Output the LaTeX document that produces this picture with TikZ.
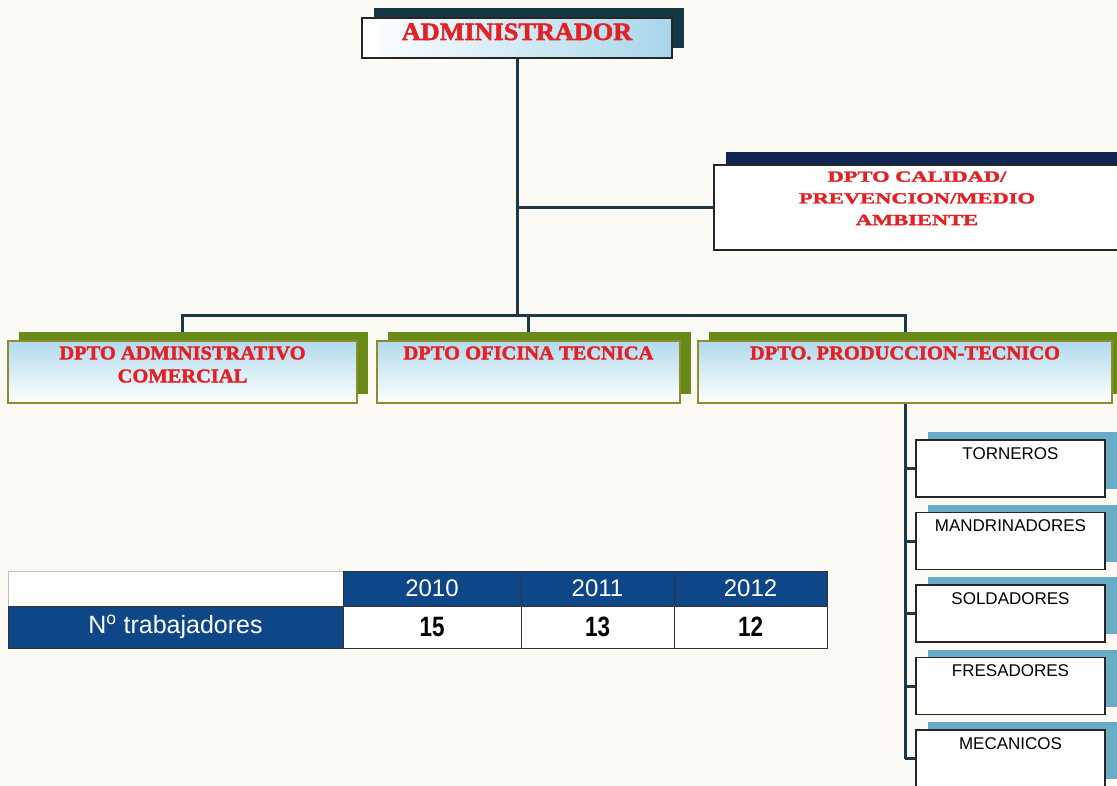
\documentclass[tikz,border=0pt]{standalone}
\usepackage{fontspec}
\setmainfont{Liberation Sans}
\newfontfamily\stencilfont[FakeStretch=1.05, FakeBold=2]{Liberation Serif}
\newfontfamily\widestencil[FakeStretch=1.45, FakeBold=2]{Liberation Serif}
\newfontfamily\narrowsans[FakeStretch=0.8]{Liberation Sans}
\usetikzlibrary{shapes,shadows,positioning,calc}
\definecolor{paper}{RGB}{251,250,244}
\definecolor{wirecol}{RGB}{28,58,70}
\definecolor{stencilred}{RGB}{228,32,36}
\definecolor{admshadow}{RGB}{22,56,70}
\definecolor{calshadow}{RGB}{16,38,82}
\definecolor{deptshadow}{RGB}{104,138,24}
\definecolor{deptborder}{RGB}{140,140,48}
\definecolor{workshadow}{RGB}{104,172,198}
\definecolor{skyfill}{RGB}{168,214,234}
\definecolor{tablenavy}{RGB}{14,70,136}
\pgfdeclarelayer{paperlayer}
\pgfdeclarelayer{wirelayer}
\pgfsetlayers{paperlayer,wirelayer,main}

\begin{document}
\begin{tikzpicture}[x=1pt,y=-1pt]
			\tikzstyle{box}=[rectangle, inner sep=0pt, line width=1.5pt]
			\tikzstyle{admbox}=[box, draw=black!85, minimum width=310pt, minimum height=40pt, left color=white, right color=skyfill, drop shadow={shadow xshift=12pt, shadow yshift=10pt, fill=admshadow, opacity=1}]
			\tikzstyle{calbox}=[box, draw=black!85, fill=white, minimum width=410pt, minimum height=85pt, drop shadow={shadow xshift=12pt, shadow yshift=13pt, fill=calshadow, opacity=1}]
			\tikzstyle{deptbox}=[box, draw=deptborder, minimum height=62pt, shading=axis, shading angle=225, top color=skyfill!90, bottom color=white, drop shadow={shadow xshift=11pt, shadow yshift=9pt, fill=deptshadow, opacity=1}]
			\tikzstyle{workbox}=[box, draw=black!85, fill=white, minimum width=189pt, minimum height=57pt, drop shadow={shadow xshift=12pt, shadow yshift=8pt, fill=workshadow, opacity=1}]
			\tikzstyle{redtxt}=[inner sep=0pt, text=stencilred, align=center, font=\stencilfont\bfseries\fontsize{19.5}{23}\selectfont]
			\tikzstyle{worktxt}=[inner sep=0pt, font=\fontsize{17}{20}\selectfont]
			\tikzstyle{cell}=[rectangle, inner sep=0pt, draw=black!80, line width=0.8pt, minimum height=35pt]
			\tikzstyle{headcell}=[cell, fill=tablenavy, text=white, font=\fontsize{24}{28}\selectfont]
			\tikzstyle{numcell}=[cell, fill=white, minimum height=42pt, font=\narrowsans\bfseries\fontsize{28}{32}\selectfont]
			\tikzstyle{wire}=[draw=wirecol, line width=3pt]
			\begin{pgfonlayer}{paperlayer}
				\fill[paper] (0,0) rectangle (1117,786);
			\end{pgfonlayer}
			\useasboundingbox (0,0) rectangle (1117,786);
			\node[admbox] (adm) at (517,38) {};
			\node[redtxt, font=\stencilfont\bfseries\fontsize{25}{28}\selectfont, below=6pt of adm.north] (admtxt) {ADMINISTRADOR};
			\node[calbox] (cal) at (919,207.5) {};
			\node[redtxt, font=\widestencil\bfseries\fontsize{15.5}{21.7}\selectfont, below=7pt of cal.north, xshift=-2pt] (caltxt) {DPTO CALIDAD/\\PREVENCION/MEDIO\\AMBIENTE};
			\node[deptbox, minimum width=349pt] (dadm) at (182.5,372) {};
			\node[redtxt, below=6pt of dadm.north] (dadmtxt) {DPTO ADMINISTRATIVO\\COMERCIAL};
			\node[deptbox, minimum width=303pt] (ofi) at (528.5,372) {};
			\node[redtxt, below=6pt of ofi.north] (ofitxt) {DPTO OFICINA TECNICA};
			\node[deptbox, minimum width=414pt] (prod) at (905,372) {};
			\node[redtxt, below=6pt of prod.north] (prodtxt) {DPTO. PRODUCCION-TECNICO};
			\foreach \name/\job [count=\i] in {torn/TORNEROS, mand/MANDRINADORES, sold/SOLDADORES, fres/FRESADORES, meca/MECANICOS}{
				\node[workbox] (\name) at (1010.5,{468.5+72.5*(\i-1)}) {};
				\node[worktxt, below=8pt of \name.north] (\name-lbl) {\job};
			}
			\coordinate (hub) at (517,316);
			\begin{pgfonlayer}{wirelayer}
				\draw[wire] (adm.south) -- (hub);
				\draw[wire] (adm.south |- cal.west) -- (cal.west);
				\draw[wire] (dadm.north) -- (dadm.north |- hub) -- (prod.north |- hub) -- (prod.north);
				\draw[wire] (ofi.north) -- (ofi.north |- hub);
				\draw[wire] (prod.south) -- (prod.south |- meca.west);
				\foreach \name in {torn,mand,sold,fres,meca}
					\draw[wire] (prod.south |- \name.west) -- (\name.west);
			\end{pgfonlayer}
			\node[cell, draw=black!25, fill=white, minimum width=335pt] (blank) at (175.5,588.5) {};
			\node[headcell, minimum width=178pt] (y2010) at (432,588.5) {2010};
			\node[headcell, minimum width=153pt] (y2011) at (597.5,588.5) {2011};
			\node[headcell, minimum width=153pt] (y2012) at (750.5,588.5) {2012};
			\node[headcell, minimum width=335pt, minimum height=42pt, font=\fontsize{25}{29}\selectfont] (staff) at (175.5,627) {N\textsuperscript{o} trabajadores};
			\node[numcell, minimum width=178pt] (n2010) at (432,627) {15};
			\node[numcell, minimum width=153pt] (n2011) at (597.5,627) {13};
			\node[numcell, minimum width=153pt] (n2012) at (750.5,627) {12};
		\end{tikzpicture}
\end{document}
